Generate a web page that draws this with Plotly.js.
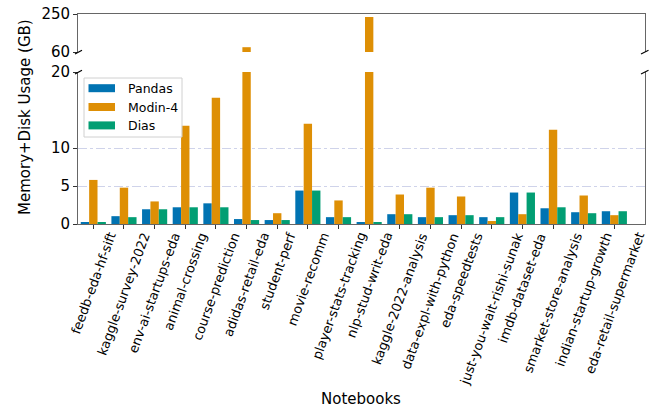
<!DOCTYPE html>
<html><head><meta charset="utf-8">
<script src="https://cdn.plot.ly/plotly-3.0.1.min.js"></script>
<style>html,body{margin:0;padding:0;background:#fff}#chart{width:658px;height:411px}</style>
</head><body><div id="chart"></div>
<script>
const notebooks = ['feedb-eda-hf-sift','kaggle-survey-2022','env-ai-startups-eda','animal-crossing','course-prediction','adidas-retail-eda','student-perf','movie-recomm','player-stats-tracking','nlp-stud-writ-eda','kaggle-2022-analysis','data-expl-with-python','eda-speedtests','just-you-wait-rishi-sunak','imdb-dataset-eda','smarket-store-analysis','indian-startup-growth','eda-retail-supermarket'];
const pandas = [0.26, 1.03, 1.94, 2.2, 2.72, 0.65, 0.52, 4.4, 0.9, 0.26, 1.29, 0.9, 1.16, 0.9, 4.14, 2.07, 1.55, 1.68];
const modin  = [5.8, 4.78, 2.97, 12.94, 16.6, 84, 1.42, 13.2, 3.1, 235, 3.88, 4.78, 3.62, 0.39, 1.29, 12.4, 3.75, 1.16];
const dias   = [0.26, 0.9, 1.94, 2.2, 2.2, 0.52, 0.52, 4.4, 0.9, 0.26, 1.29, 0.9, 1.16, 0.9, 4.14, 2.2, 1.42, 1.68];
const seriesNames = ['Pandas', 'Modin-4', 'Dias'];
const seriesColors = ['#0173b2', '#de8f05', '#029e73'];
const lowerTicks = [0, 5, 10, 20];
const upperTicks = [60, 250];
const lowerRange = [0, 20];
const upperRange = [60, 250];
const yTitle = 'Memory+Disk Usage (GB)';
const xTitle = 'Notebooks';

const W = 658, H = 411, L = 78, R = 13, T = 14, B = 187;
const PW = W - L - R, PH = H - T - B;
const px = x => (x - L) / PW;
const py = y => (H - B - y) / PH;
const FONT = 'DejaVu Sans';

const seriesData = [pandas, modin, dias];
const traces = [];
seriesData.forEach((vals, i) => {
  ['', '2'].forEach(ax => {
    traces.push({
      type: 'bar', x: notebooks, y: vals, name: seriesNames[i],
      marker: {color: seriesColors[i], line: {width: 0}},
      xaxis: 'x' + ax, yaxis: 'y' + ax, showlegend: false, hoverinfo: 'skip'
    });
  });
});

const lineC = '#666', gridC = '#cfd3ea';
const shapes = [];
const annotations = [];
// break marks
[[75, 82], [641, 648.5]].forEach(([a, b]) => {
  [52, 72].forEach(yy => {
    shapes.push({type: 'line', xref: 'paper', yref: 'paper', x0: px(a), x1: px(b), y0: py(yy + 2), y1: py(yy - 1.8), line: {color: '#000', width: 1.2}});
  });
});
// legend
shapes.push({type: 'rect', xref: 'paper', yref: 'paper', x0: px(84), x1: px(182), y0: py(78), y1: py(137), line: {color: '#d0d0d0', width: 1}, fillcolor: 'rgba(255,255,255,0.85)'});
const legY = [88.2, 107, 125.4];
seriesNames.forEach((n, i) => {
  shapes.push({type: 'rect', xref: 'paper', yref: 'paper', x0: px(88.5), x1: px(115), y0: py(legY[i] - 4), y1: py(legY[i] + 4), line: {width: 0}, fillcolor: seriesColors[i]});
  annotations.push({xref: 'paper', yref: 'paper', x: px(126), y: py(legY[i]), xanchor: 'left', yanchor: 'middle', showarrow: false, text: n, font: {family: FONT, size: 12.5, color: '#000'}});
});
// x tick labels
notebooks.forEach((n, i) => {
  annotations.push({xref: 'x', yref: 'paper', x: i, y: 0, xanchor: 'center', yanchor: 'top', yshift: -4, textangle: -70, showarrow: false, text: n, font: {family: FONT, size: 13, color: '#000'}});
});
// titles
annotations.push({xref: 'paper', yref: 'paper', x: px(24.5), y: py(117.5), xanchor: 'center', yanchor: 'middle', textangle: -90, showarrow: false, text: yTitle, font: {family: FONT, size: 15, color: '#000'}});
annotations.push({xref: 'paper', yref: 'paper', x: px(361), y: py(399), xanchor: 'center', yanchor: 'middle', showarrow: false, text: xTitle, font: {family: FONT, size: 15, color: '#000'}});

const yCommon = {
  showline: true, mirror: true, linecolor: lineC, linewidth: 1.4,
  ticks: 'outside', ticklen: 3.5, tickcolor: '#333', tickwidth: 1,
  showgrid: true, gridcolor: gridC, griddash: 'dashdot', gridwidth: 1,
  zeroline: false, tickfont: {family: FONT, size: 15, color: '#000'}, tickmode: 'array'
};
const layout = {
  width: W, height: H, margin: {l: L, r: R, t: T, b: B},
  paper_bgcolor: '#fff', plot_bgcolor: '#fff',
  barmode: 'group', bargap: 0.18, bargroupgap: 0,
  font: {family: FONT},
  xaxis: {anchor: 'y', domain: [0, 1], type: 'category', range: [-0.5, 18], showticklabels: false,
          ticks: 'outside', ticklen: 3.5, tickcolor: '#333', tickwidth: 1, showline: true, linecolor: lineC, linewidth: 1.4, showgrid: false, zeroline: false},
  xaxis2: {anchor: 'y2', domain: [0, 1], matches: 'x', type: 'category', range: [-0.5, 18], showticklabels: false, ticks: '',
          showline: true, side: 'top', linecolor: lineC, linewidth: 1.4, showgrid: false, zeroline: false},
  yaxis: Object.assign({}, yCommon, {anchor: 'x', domain: [0, py(72)], range: lowerRange, tickvals: lowerTicks, ticktext: lowerTicks.map(String)}),
  yaxis2: Object.assign({}, yCommon, {anchor: 'x2', domain: [py(52), 1], range: upperRange, tickvals: upperTicks, ticktext: upperTicks.map(String)}),
  shapes: shapes, annotations: annotations, showlegend: false
};
Plotly.newPlot('chart', traces, layout, {staticPlot: true, displayModeBar: false});
</script></body></html>
